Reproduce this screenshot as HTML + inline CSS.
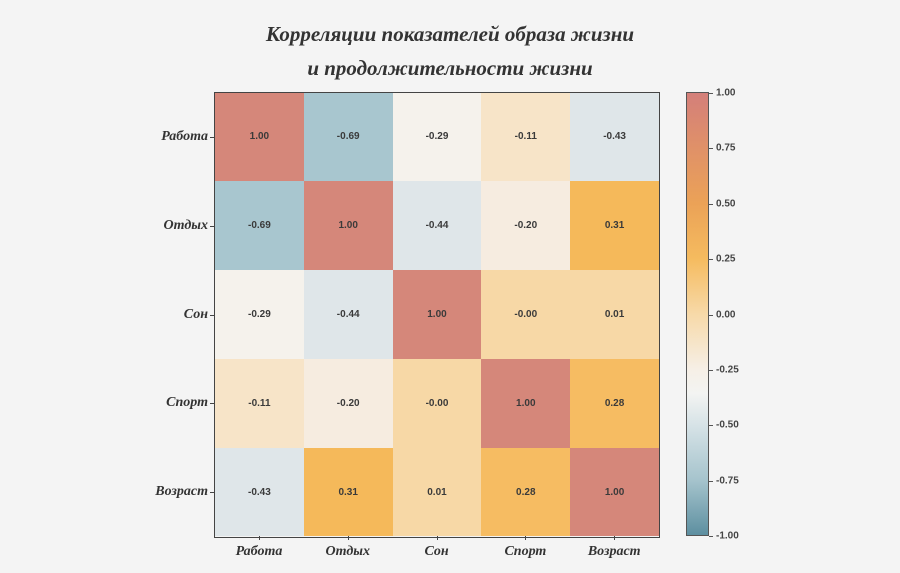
<!DOCTYPE html>
<html><head><meta charset="utf-8"><style>
body{margin:0;background:#f4f4f4;width:900px;height:573px;overflow:hidden;position:relative;font-family:"Liberation Sans",sans-serif}
.t{position:absolute;left:0;width:900px;text-align:center;font-family:"Liberation Serif",serif;font-style:italic;font-weight:bold;font-size:21px;color:#333}
.c{position:absolute;width:88.8px;height:88.8px;display:flex;align-items:center;justify-content:center;font-size:10px;font-weight:bold;color:#3a3a3a}
.yl{position:absolute;right:692px;font-family:"Liberation Serif",serif;font-style:italic;font-weight:bold;font-size:14px;color:#333;transform:translateY(-50%)}
.xl{position:absolute;top:544px;width:100px;text-align:center;font-family:"Liberation Serif",serif;font-style:italic;font-weight:bold;font-size:14px;color:#333}
.tk{position:absolute;font-size:10px;font-weight:bold;color:#444;left:716px;transform:translateY(-50%)}
</style></head><body>
<div class="t" style="top:22px">Корреляции показателей образа жизни</div>
<div class="t" style="top:56px">и продолжительности жизни</div>
<div id="g"></div>
<div style="position:absolute;left:214px;top:91.5px;width:444px;height:444px;border:1px solid #444;"></div>
<div style="position:absolute;left:686px;top:92px;width:23px;height:444px;border:1px solid #555;box-sizing:border-box;background:linear-gradient(to bottom,#d47f7a 0%,#e09168 12.5%,#eba257 25%,#f5bb5f 37.5%,#f7d9a8 50%,#f6efe6 62.5%,#f3f4f2 68%,#d7e3e7 75%,#a6c4cd 87.5%,#5d8fa0 100%)"></div>
<script>
var v=[[1,-.69,-.29,-.11,-.43],[-.69,1,-.44,-.20,.31],[-.29,-.44,1,-0.001,.01],[-.11,-.20,-0.001,1,.28],[-.43,.31,.01,.28,1]];
function col(x){
 if(x>=0.99)return"#d5877a";if(x==-.69)return"#a8c6cf";if(x==-.29)return"#f5f2ec";if(x==-.11)return"#f7e4c8";
 if(x==-.43||x==-.44)return"#dfe6e9";if(x==-.2)return"#f6ece0";if(x==.31)return"#f5b95a";if(x==.28)return"#f6bc62";return"#f7d8a6";}
var h="",n=["Работа","Отдых","Сон","Спорт","Возраст"];
for(var i=0;i<5;i++){for(var j=0;j<5;j++){var x=v[i][j];var s=x>-0.01&&x<0?"-0.00":x.toFixed(2);
h+='<div class="c" style="left:'+(215+j*88.8)+'px;top:'+(92.5+i*88.8)+'px;background:'+col(x)+'">'+s+'</div>';}
h+='<div class="yl" style="top:'+(137+i*88.8)+'px">'+n[i]+'</div>';
h+='<div style="position:absolute;left:210px;width:4px;height:1px;background:#444;top:'+(137+i*88.8)+'px"></div>';
h+='<div class="xl" style="left:'+(209+i*88.8)+'px">'+n[i]+'</div>';
h+='<div style="position:absolute;top:536px;width:1px;height:4px;background:#444;left:'+(259+i*88.8)+'px"></div>';}
var t=["1.00","0.75","0.50","0.25","0.00","-0.25","-0.50","-0.75","-1.00"];
for(var k=0;k<9;k++){var y=93+k*55.4;h+='<div class="tk" style="top:'+y+'px">'+t[k]+'</div><div style="position:absolute;left:709px;width:4px;height:1px;background:#555;top:'+y+'px"></div>';}
document.getElementById("g").innerHTML=h;
</script>
</body></html>
